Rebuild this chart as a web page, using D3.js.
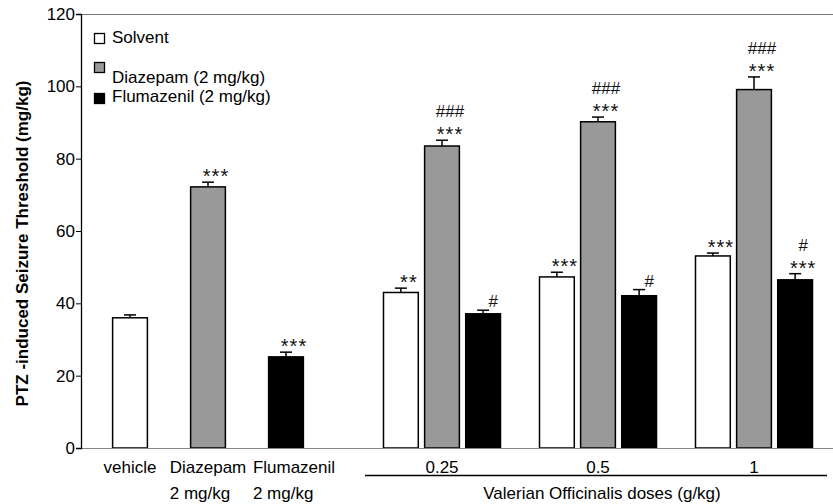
<!DOCTYPE html>
<html>
<head>
<meta charset="utf-8">
<script src="https://cdn.jsdelivr.net/npm/d3@7"></script>
<style>
  body { margin: 0; background: #fff; }
  svg { font-family: "Liberation Sans", Arial, sans-serif; }
</style>
</head>
<body>
<svg id="chart" width="833" height="504"></svg>
<script>
// single control bars (left part of the chart)
const controlLabels = ['vehicle', 'Diazepam', 'Flumazenil'];
const controlSubLabels = ['', '2 mg/kg', '2 mg/kg'];
const controlSeries = ['Solvent', 'Diazepam (2 mg/kg)', 'Flumazenil (2 mg/kg)'];
const controlMeans = [36, 72.2, 25.2];
const controlErrors = [0.8, 1.3, 1.3];
const controlSig = [[], ['***'], ['***']];

// valerian groups
const doses = ['0.25', '0.5', '1'];
const seriesNames = ['Solvent', 'Diazepam (2 mg/kg)', 'Flumazenil (2 mg/kg)'];
const solventMeans = [43, 47.3, 53.1];
const solventErrors = [1.2, 1.3, 0.8];
const diazepamMeans = [83.5, 90.2, 99.1];
const diazepamErrors = [1.6, 1.3, 3.5];
const flumazenilMeans = [37.1, 42.1, 46.5];
const flumazenilErrors = [1.0, 1.7, 1.7];
const solventSig = [['**'], ['***'], ['***']];
const diazepamSig = [['***', '###'], ['***', '###'], ['***', '###']];
const flumazenilSig = [['#'], ['#'], ['***', '#']];

const yTicks = [0, 20, 40, 60, 80, 100, 120];
const yTitle = 'PTZ -induced Seizure Threshold (mg/kg)';
const groupTitle = 'Valerian Officinalis doses (g/kg)';

const colors = d3.scaleOrdinal().domain(seriesNames).range(['#ffffff', '#999999', '#000000']);

const svg = d3.select('#chart');
const mLeft = 81, mRight = 833, mTop = 14, mBottom = 448;
const fs = 17;

const y = d3.scaleLinear().domain([0, 120]).range([mBottom, mTop]);
// slots: 0..2 for controls, 4, 6, 8 for dose groups
const slot = d3.scaleLinear().domain([0, 8]).range([130, 754]);
const inner = d3.scaleBand().domain(seriesNames).range([-58.5, 58.5]).paddingInner(0.154);
const bw = inner.bandwidth();

// build a flat list of bars
const bars = [];
controlLabels.forEach((lab, i) => {
  bars.push({ cx: slot(i), series: controlSeries[i], mean: controlMeans[i], err: controlErrors[i], sig: controlSig[i] });
});
const groupData = [
  [solventMeans, solventErrors, solventSig],
  [diazepamMeans, diazepamErrors, diazepamSig],
  [flumazenilMeans, flumazenilErrors, flumazenilSig]
];
doses.forEach((d, gi) => {
  seriesNames.forEach((s, si) => {
    const [m, e, sg] = groupData[si];
    bars.push({ cx: slot(4 + gi * 2) + inner(s) + bw / 2, series: s, mean: m[gi], err: e[gi], sig: sg[gi] });
  });
});

// frame line on top
svg.append('line').attr('x1', mLeft).attr('x2', mRight).attr('y1', mTop + 0.5).attr('y2', mTop + 0.5)
  .attr('stroke', '#777').attr('stroke-width', 1.2);

// bars
svg.selectAll('rect.bar').data(bars).join('rect')
  .attr('class', 'bar')
  .attr('x', d => d.cx - bw / 2)
  .attr('y', d => y(d.mean))
  .attr('width', bw)
  .attr('height', d => y(0) - y(d.mean))
  .attr('fill', d => colors(d.series))
  .attr('stroke', '#000')
  .attr('stroke-width', 1.5);

// error bars (upper only)
const eb = svg.selectAll('g.err').data(bars).join('g').attr('class', 'err');
eb.append('line')
  .attr('x1', d => d.cx).attr('x2', d => d.cx)
  .attr('y1', d => y(d.mean)).attr('y2', d => y(d.mean + d.err))
  .attr('stroke', '#000').attr('stroke-width', 1.5);
eb.append('line')
  .attr('x1', d => d.cx - 6).attr('x2', d => d.cx + 6)
  .attr('y1', d => y(d.mean + d.err)).attr('y2', d => y(d.mean + d.err))
  .attr('stroke', '#000').attr('stroke-width', 1.5);

// significance marks
bars.forEach(d => {
  d.sig.forEach((t, k) => {
    const isStar = t.indexOf('*') >= 0;
    svg.append('text')
      .attr('x', d.cx + (k == 0 && !isStar ? 10 : 8))
      .attr('y', y(d.mean + d.err) + (isStar ? 1 : -3) - k * 20)
      .attr('text-anchor', 'middle')
      .attr('font-size', isStar ? 20 : 17)
      .attr('letter-spacing', isStar ? 1 : 0)
      .attr('fill', '#111')
      .text(t);
  });
});

// x baseline
svg.append('line').attr('x1', mLeft).attr('x2', mRight).attr('y1', mBottom + 0.5).attr('y2', mBottom + 0.5)
  .attr('stroke', '#888').attr('stroke-width', 1.2);

// y axis
const yAxis = svg.append('g').attr('transform', `translate(${mLeft},0)`)
  .call(d3.axisLeft(y).tickValues(yTicks).tickSize(5).tickPadding(1));
yAxis.select('.domain').attr('stroke', '#000').attr('stroke-width', 1.3);
yAxis.selectAll('.tick line').attr('stroke', '#000');
yAxis.selectAll('.tick text').attr('font-size', 17).attr('fill', '#000')
  .attr('font-family', '"Liberation Sans", Arial, sans-serif');

svg.append('text')
  .attr('transform', `translate(28,${(72 + 415) / 2}) rotate(-90)`)
  .attr('text-anchor', 'middle')
  .attr('font-size', 17).attr('font-weight', 'bold')
  .text(yTitle);

// x labels for controls (last one sits a little right of its bar)
const labelShift = [0, 0, 8];
controlLabels.forEach((lab, i) => {
  const cx = slot(i) + labelShift[i];
  const t = svg.append('text')
    .attr('x', cx).attr('y', 473)
    .attr('text-anchor', 'middle').attr('font-size', fs)
    .text(lab);
  if (controlSubLabels[i]) {
    const w = t.node().getComputedTextLength();
    svg.append('text')
      .attr('x', cx - w / 2).attr('y', 499)
      .attr('font-size', fs)
      .text(controlSubLabels[i]);
  }
});

// dose labels
doses.forEach((d, gi) => {
  svg.append('text')
    .attr('x', slot(4 + gi * 2)).attr('y', 473)
    .attr('text-anchor', 'middle').attr('font-size', fs)
    .text(d);
});
svg.append('line').attr('x1', 365).attr('x2', 827).attr('y1', 475.5).attr('y2', 475.5)
  .attr('stroke', '#000').attr('stroke-width', 1.3);
svg.append('text')
  .attr('x', 602).attr('y', 499)
  .attr('text-anchor', 'middle').attr('font-size', fs)
  .text(groupTitle);

// legend
const legendRows = [{ box: 33, text: 43 }, { box: 62, text: 83 }, { box: 93, text: 102 }];
seriesNames.forEach((s, i) => {
  svg.append('rect')
    .attr('x', 94.5).attr('y', legendRows[i].box + 0.5)
    .attr('width', 10).attr('height', 10)
    .attr('fill', colors(s)).attr('stroke', '#000').attr('stroke-width', 1.3);
  svg.append('text')
    .attr('x', 112).attr('y', legendRows[i].text)
    .attr('font-size', fs)
    .text(s);
});
</script>
</body>
</html>
